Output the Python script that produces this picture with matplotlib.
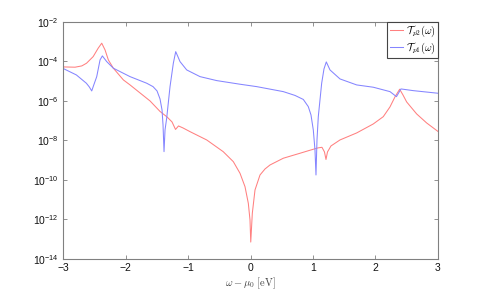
import numpy as np
import matplotlib
matplotlib.use("Agg")
import matplotlib.pyplot as plt
from matplotlib.ticker import FixedLocator, FuncFormatter, NullLocator

plt.rcParams['font.family'] = ['Liberation Sans', 'DejaVu Sans']
plt.rcParams['mathtext.fontset'] = 'cm'
plt.rcParams['font.size'] = 7.5

# (omega - mu0 in eV, transmission)
x_p2 = [-3.0, -2.808, -2.7, -2.624, -2.518, -2.438, -2.381, -2.328, -2.275, -2.195,
        -2.035, -1.928, -1.768, -1.608, -1.448, -1.336, -1.256, -1.2, -1.152, -1.08,
        -0.968, -0.701, -0.437, -0.275, -0.168, -0.088, -0.035, -0.008, 0.004, 0.029,
        0.072, 0.152, 0.232, 0.312, 0.525, 0.792, 0.952, 1.08, 1.144, 1.184,
        1.208, 1.232, 1.288, 1.432, 1.699, 1.965, 2.125, 2.232, 2.312, 2.387,
        2.44, 2.499, 2.659, 2.819, 3.0]
t_p2 = [5.27e-5, 5.1e-5, 5.92e-5, 8.11e-5, 1.75e-4, 4.66e-4, 8.35e-4, 3.82e-4, 1.19e-4, 4.53e-5,
        1.16e-5, 6.46e-6, 2.54e-6, 1.0e-6, 2.94e-7, 1.55e-7, 8.65e-8, 3.61e-8, 5.42e-8, 4.29e-8,
        2.79e-8, 1.06e-8, 2.71e-9, 8.45e-10, 2.18e-10, 4.58e-11, 6.6e-12, 9.44e-13, 7.2e-14, 2.06e-12,
        3.12e-11, 1.79e-10, 3.6e-10, 5.74e-10, 1.26e-9, 2.25e-9, 3.2e-9, 4.2e-9, 4.5e-9, 2.62e-9,
        1.09e-9, 2.62e-9, 5.27e-9, 1.06e-8, 2.40e-8, 6.85e-8, 1.60e-7, 4.97e-7, 1.60e-6, 3.91e-6,
        2.01e-6, 8.9e-7, 2.2e-7, 7.69e-8, 2.86e-8]

x_p1 = [-3.0, -2.787, -2.627, -2.58, -2.541, -2.51, -2.461, -2.408, -2.371, -2.301,
        -2.195, -1.928, -1.661, -1.56, -1.496, -1.448, -1.416, -1.4, -1.384, -1.368,
        -1.341, -1.288, -1.235, -1.197, -1.16, -1.128, -1.021, -0.808, -0.541, -0.168,
        0.099, 0.525, 0.712, 0.845, 0.925, 0.968, 1.005, 1.032, 1.048, 1.064,
        1.085, 1.139, 1.176, 1.213, 1.272, 1.432, 1.699, 1.965, 2.232, 2.336,
        2.408, 2.605, 3.0]
t_p1 = [4.42e-5, 2.07e-5, 7.87e-6, 5.12e-6, 3.21e-6, 6.2e-6, 1.70e-5, 1.19e-4, 1.90e-4, 9.77e-5,
        4.53e-5, 1.70e-5, 7.87e-6, 5.30e-6, 3.21e-6, 1.26e-6, 3.5e-7, 6.09e-8, 2.71e-9, 3.4e-8,
        1.38e-7, 5.30e-6, 8.11e-5, 3.13e-4, 1.69e-4, 9.77e-5, 3.71e-5, 1.70e-5, 1.07e-5, 7.01e-6,
        5.30e-6, 2.96e-6, 1.90e-6, 1.19e-6, 5.14e-7, 1.95e-7, 3.4e-8, 3.3e-9, 1.79e-10, 1.06e-8,
        1.60e-7, 7.87e-6, 4.17e-5, 9.44e-5, 3.71e-5, 1.30e-5, 6.46e-6, 4.94e-6, 2.96e-6, 1.65e-6,
        4.05e-6, 3.32e-6, 2.45e-6]

x_ticks = [-3, -2, -1, 0, 1, 2, 3]
y_ticks = [1e-14, 1e-12, 1e-10, 1e-8, 1e-6, 1e-4, 1e-2]

fig = plt.figure(figsize=(4.85, 2.92), dpi=100)
ax = fig.add_axes([0.13, 0.113, 0.773, 0.812])

ax.semilogy(x_p2, t_p2, color='#ff8080', lw=0.75, label=r'$\mathcal{T}_{p2}(\omega)$')
ax.semilogy(x_p1, t_p1, color='#8585ff', lw=0.75, label=r'$\mathcal{T}_{p1}(\omega)$')

ax.set_xlim(-3, 3)
ax.set_ylim(1e-14, 1e-2)
ax.xaxis.set_major_locator(FixedLocator(x_ticks))
ax.yaxis.set_major_locator(FixedLocator(y_ticks))
ax.yaxis.set_minor_locator(NullLocator())
ax.yaxis.set_major_formatter(FuncFormatter(lambda v, p: r'$\mathregular{10^{%d}}$' % round(np.log10(v))))
ax.xaxis.set_major_formatter(FuncFormatter(lambda v, p: '%d' % v if v >= 0 else '\u2212%d' % -v))

for s in ax.spines.values():
    s.set_color('#808080')
    s.set_linewidth(0.8)
ax.tick_params(direction='in', top=True, right=True, length=3, width=0.6,
               color='#808080', labelcolor='#111111', labelsize=7.5, pad=3)

ax.set_xlabel(r'$\omega - \mu_0\ [\mathrm{eV}]$', fontsize=7.5, color='#444444', labelpad=2)

leg = ax.legend(loc='upper right', fontsize=7.5, fancybox=False, borderaxespad=0,
                handlelength=1.3, handletextpad=0.3, borderpad=0.2, labelspacing=0.1,
                framealpha=1)
leg.get_frame().set_edgecolor('#444444')
leg.get_frame().set_linewidth(0.8)

fig.savefig('out.png', dpi=100)
